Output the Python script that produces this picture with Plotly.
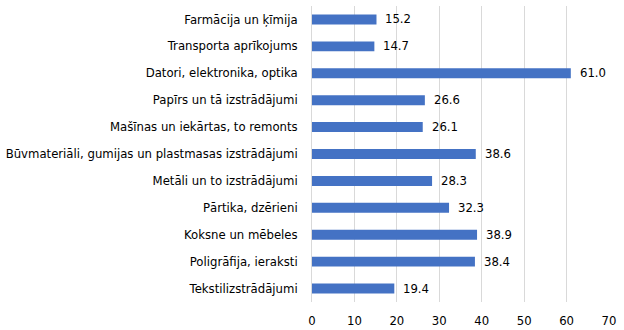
import plotly.graph_objects as go

categories = [
    "Farmācija un ķīmija",
    "Transporta aprīkojums",
    "Datori, elektronika, optika",
    "Papīrs un tā izstrādājumi",
    "Mašīnas un iekārtas, to remonts",
    "Būvmateriāli, gumijas un plastmasas izstrādājumi",
    "Metāli un to izstrādājumi",
    "Pārtika, dzērieni",
    "Koksne un mēbeles",
    "Poligrāfija, ieraksti",
    "Tekstilizstrādājumi",
]
values = [15.2, 14.7, 61.0, 26.6, 26.1, 38.6, 28.3, 32.3, 38.9, 38.4, 19.4]
tick_vals = [0, 10, 20, 30, 40, 50, 60, 70]

FONT = "DejaVu Sans"
FS = 11.7

fig = go.Figure(go.Bar(
    x=values,
    y=categories,
    orientation="h",
    marker=dict(color="#4472C4", line=dict(width=0)),
    hoverinfo="x+y",
))

for c, v in zip(categories, values):
    fig.add_annotation(
        x=v, y=c, xref="x", yref="y",
        text=f"{v:.1f}", showarrow=False,
        xanchor="left", yanchor="middle", xshift=7,
        font=dict(family=FONT, size=FS, color="#000000"),
    )

fig.update_layout(
    width=624, height=330,
    margin=dict(l=312, r=15, t=6, b=28),
    paper_bgcolor="white", plot_bgcolor="white",
    bargap=0.63,
    showlegend=False,
    font=dict(family=FONT, size=FS, color="#000000"),
)
fig.update_xaxes(
    range=[0, 70], tickvals=tick_vals,
    showgrid=True, gridcolor="#D9D9D9", gridwidth=1,
    zeroline=False, showline=False, ticks="",
    ticklabelstandoff=10, automargin=False,
    tickfont=dict(family=FONT, size=FS, color="#000000"),
)
fig.update_yaxes(
    autorange="reversed",
    showline=True, linecolor="#D9D9D9", linewidth=1,
    ticks="", ticklabelstandoff=11, automargin=False,
    tickfont=dict(family=FONT, size=FS, color="#000000"),
)

fig.write_html("out.html")
